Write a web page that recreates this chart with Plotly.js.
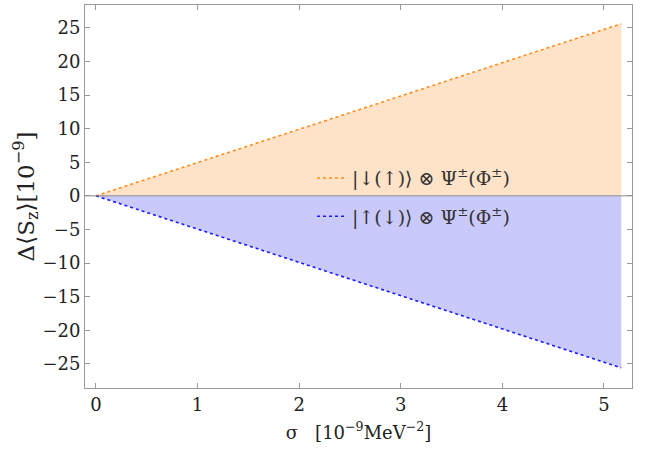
<!DOCTYPE html>
<html>
<head>
<meta charset="utf-8">
<script src="https://cdn.plot.ly/plotly-3.0.1.min.js"></script>
<style>html,body{margin:0;padding:0;background:#fff;}#chart{width:647px;height:453px;}</style>
</head>
<body>
<div id="chart"></div>
<script>
// Data
const sigma = [0, 1, 2, 3, 4, 5, 5.17];
const upperDelta = [0, 4.95, 9.9, 14.85, 19.8, 24.75, 25.6];
const lowerDelta = [0, -4.95, -9.9, -14.85, -19.8, -24.75, -25.6];
const labelUpper = '|↓(↑)⟩ ⊗ Ψ<sup>±</sup>(Φ<sup>±</sup>)';
const labelLower = '|↑(↓)⟩ ⊗ Ψ<sup>±</sup>(Φ<sup>±</sup>)';

const font = "'DejaVu Serif', serif";
const traces = [
  {x: sigma, y: upperDelta, mode: 'lines', fill: 'tozeroy', fillcolor: '#FFE3C8',
   line: {width: 0}, showlegend: false, hoverinfo: 'skip'},
  {x: sigma, y: lowerDelta, mode: 'lines', fill: 'tozeroy', fillcolor: '#C9C9FB',
   line: {width: 0}, showlegend: false, hoverinfo: 'skip'},
  {x: sigma, y: upperDelta, mode: 'lines', name: labelUpper,
   line: {color: '#FF8C1A', width: 1.6, dash: 'dot'}, legend: 'legend'},
  {x: sigma, y: lowerDelta, mode: 'lines', name: labelLower,
   line: {color: '#1A1AFF', width: 1.6, dash: 'dot'}, legend: 'legend2'}
];

const axisCommon = {
  showgrid: false, showline: true, mirror: 'ticks', linecolor: '#9a9a9a', linewidth: 1,
  ticks: 'inside', ticklen: 5, tickcolor: '#9a9a9a', tickwidth: 1,
  tickfont: {family: font, size: 18, color: '#222'}, zeroline: false
};

const layout = {
  width: 647, height: 453,
  margin: {l: 85, r: 15, t: 5, b: 65},
  paper_bgcolor: '#fff', plot_bgcolor: '#fff',
  font: {family: font, color: '#222'},
  xaxis: Object.assign({}, axisCommon, {
    range: [-0.108, 5.276], dtick: 1, tick0: 0,
    title: {text: 'σ   [10<sup>−9</sup>MeV<sup>−2</sup>]', font: {family: font, size: 18, color: '#222'}, standoff: 12}
  }),
  yaxis: Object.assign({}, axisCommon, {
    range: [-28.6, 28.4], dtick: 5, tick0: 0,
    title: {text: 'Δ⟨S<sub>z</sub>⟩[10<sup>−9</sup>]', font: {family: font, size: 23, color: '#222'}, standoff: 0}
  }),
  shapes: [{type: 'line', xref: 'paper', x0: 0, x1: 1, yref: 'y', y0: 0, y1: 0,
            line: {color: '#8a8a8a', width: 1}}],
  legend: {x: 0.415, y: 0.548, xanchor: 'left', yanchor: 'middle', bgcolor: 'rgba(0,0,0,0)',
           font: {family: font, size: 19, color: '#333'}, itemwidth: 30},
  legend2: {x: 0.415, y: 0.448, xanchor: 'left', yanchor: 'middle', bgcolor: 'rgba(0,0,0,0)',
           font: {family: font, size: 19, color: '#333'}, itemwidth: 30},
  showlegend: true
};

Plotly.newPlot('chart', traces, layout, {displayModeBar: false, staticPlot: true});
</script>
</body>
</html>
